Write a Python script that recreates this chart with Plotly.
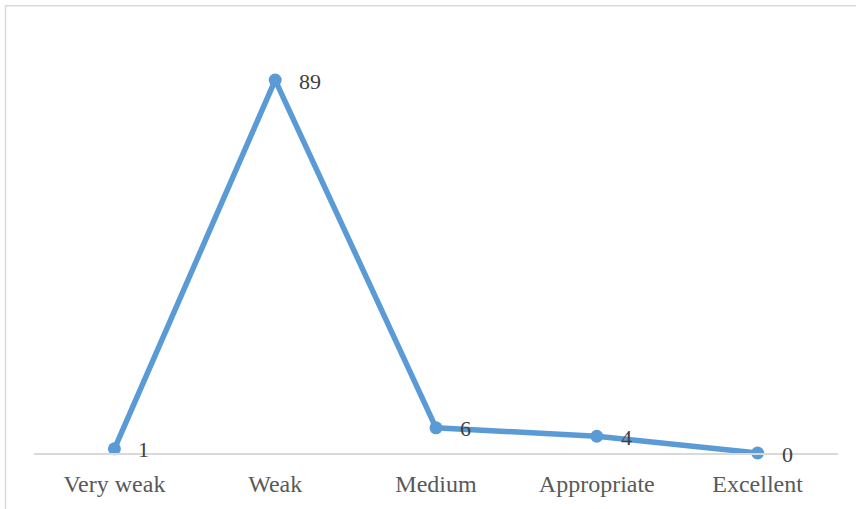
import plotly.graph_objects as go

categories = ["Very weak", "Weak", "Medium", "Appropriate", "Excellent"]
values = [1, 89, 6, 4, 0]

W, H = 856, 509
m_l, m_r, m_t, m_b = 34, 18, 34, 54
plot_w = W - m_l - m_r
plot_h = H - m_t - m_b

blue = "#5B9BD5"
font_family = "Liberation Serif, Times New Roman, serif"

fig = go.Figure()
fig.add_trace(go.Scatter(
    x=categories, y=values, mode="lines+markers",
    line=dict(color=blue, width=5.5),
    marker=dict(color=blue, size=13),
    cliponaxis=False,
    hoverinfo="skip", showlegend=False,
))

# value labels to the right of each point
for c, v in zip(categories, values):
    fig.add_annotation(x=c, y=v, text=str(v), showarrow=False,
                       xanchor="left", yanchor="middle", xshift=22, yshift=-1,
                       font=dict(family=font_family, size=22, color="#404040"))

# outer chart border (top and left edges visible)
bx0 = (5.5 - m_l) / plot_w
by1 = (H - m_b - 5.5) / plot_h
fig.add_shape(type="rect", xref="paper", yref="paper",
              x0=bx0, x1=1.2, y0=-0.3, y1=by1,
              line=dict(color="#d9d9d9", width=1.5), layer="below")

fig.update_layout(
    width=W, height=H,
    margin=dict(l=m_l, r=m_r, t=m_t, b=m_b),
    plot_bgcolor="white", paper_bgcolor="white",
    xaxis=dict(type="category", range=[-0.5, 4.5], showgrid=False,
               showline=True, linecolor="#d9d9d9", linewidth=1.5,
               ticks="", tickfont=dict(family=font_family, size=24, color="#595959"),
               ticklabelstandoff=8, zeroline=False),
    yaxis=dict(range=[0, 100], visible=False, showgrid=False, zeroline=False),
)

fig.write_html("out.html")
